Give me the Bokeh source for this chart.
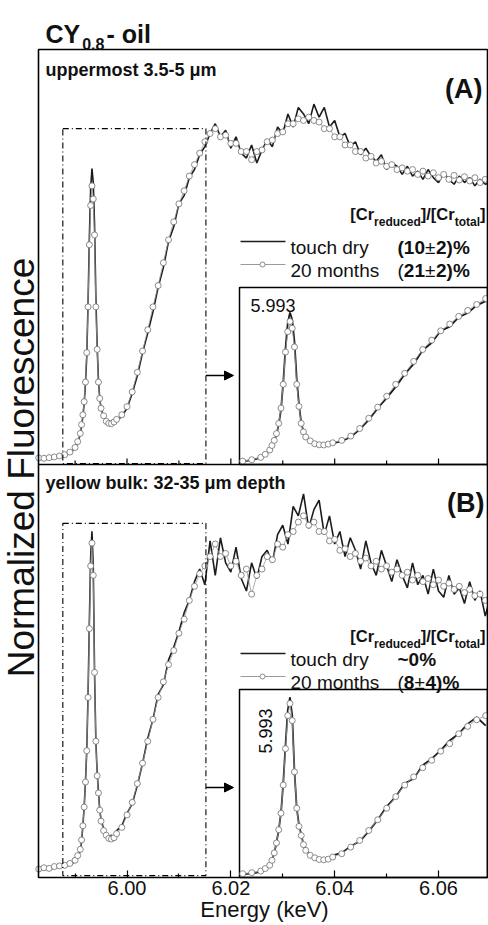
import numpy as np
from bokeh.plotting import figure
from bokeh.models import (Range1d, Label, Arrow, NormalHead, FixedTicker,
                          PrintfTickFormatter, LinearAxis)
from bokeh.embed import file_html
from bokeh.resources import INLINE

FONT = "Liberation Sans"
INK = "#111111"

# ---------------- data ----------------
energy_kev = [
    5.983, 5.984, 5.985, 5.986, 5.987, 5.988, 5.989, 5.990,
    5.9905, 5.991,
    5.99125, 5.9915, 5.99175, 5.992, 5.99225, 5.9925, 5.99275, 5.993,
    5.99325, 5.9935, 5.99375, 5.994, 5.99425, 5.9945, 5.99475, 5.995,
    5.9955, 5.996, 5.9965, 5.997, 5.9975,
    5.998, 5.999, 6.000, 6.001, 6.002, 6.003, 6.004, 6.005, 6.006, 6.007,
    6.008, 6.009, 6.010, 6.011, 6.012, 6.013, 6.014, 6.015, 6.016, 6.017,
    6.018, 6.019, 6.020, 6.021, 6.022, 6.023, 6.024, 6.025, 6.026, 6.027,
    6.028, 6.029, 6.030, 6.031, 6.032, 6.033, 6.034, 6.035, 6.036, 6.037,
    6.038, 6.039, 6.040, 6.041, 6.042, 6.043, 6.044, 6.045, 6.046, 6.047,
    6.048, 6.049, 6.050, 6.051, 6.052, 6.053, 6.054, 6.055, 6.056, 6.057,
    6.058, 6.059, 6.060, 6.061, 6.062, 6.063, 6.064, 6.065, 6.066, 6.067,
    6.068, 6.069, 6.070,
]

# (A) uppermost 3.5-5 um
a_touch_dry = [
    0.004, 0.006, 0.005, 0.009, 0.012, 0.016, 0.024, 0.038,
    0.055, 0.080,
    0.105, 0.135, 0.175, 0.235, 0.32, 0.48, 0.68, 0.83,
    0.893, 0.85, 0.72, 0.50, 0.35, 0.245, 0.19, 0.16,
    0.135, 0.12, 0.113, 0.111, 0.115,
    0.122, 0.135, 0.16, 0.205, 0.26, 0.33, 0.39, 0.455, 0.53, 0.59,
    0.67, 0.715, 0.785, 0.81, 0.865, 0.89, 0.935, 0.96, 1.0, 1.03,
    0.99, 1.01, 0.955, 0.99, 0.94, 0.925, 0.965, 0.91, 0.95, 0.98,
    0.96, 1.02, 1.0, 1.06, 1.02, 1.08, 1.06, 1.03, 1.09, 1.05,
    1.08, 1.02, 1.04, 0.99, 1.0, 0.96, 0.975, 0.935, 0.955, 0.93,
    0.915, 0.935, 0.89, 0.91, 0.9, 0.875, 0.9, 0.87, 0.885, 0.86,
    0.89, 0.865, 0.85, 0.88, 0.86, 0.845, 0.87, 0.85, 0.865, 0.84,
    0.86, 0.845, 0.85,
]
a_20_months = [
    0.008, 0.007, 0.009, 0.011, 0.014, 0.018, 0.026, 0.040,
    0.058, 0.083,
    0.11, 0.14, 0.18, 0.24, 0.33, 0.47, 0.66, 0.78,
    0.84, 0.80, 0.69, 0.47, 0.34, 0.24, 0.19, 0.16,
    0.137, 0.12, 0.114, 0.113, 0.118,
    0.126, 0.14, 0.165, 0.21, 0.27, 0.335, 0.40, 0.47, 0.535, 0.605,
    0.675, 0.73, 0.785, 0.825, 0.87, 0.905, 0.94, 0.975, 1.0, 1.015,
    0.99, 0.995, 0.97, 0.97, 0.945, 0.945, 0.92, 0.945, 0.95, 0.975,
    0.98, 1.0, 1.005, 1.03, 1.03, 1.045, 1.04, 1.05, 1.04, 1.035,
    1.015, 1.015, 0.99, 0.99, 0.965, 0.965, 0.945, 0.945, 0.925, 0.93,
    0.91, 0.915, 0.9, 0.905, 0.89, 0.895, 0.885, 0.89, 0.875, 0.885,
    0.87, 0.88, 0.865, 0.875, 0.86, 0.872, 0.858, 0.868, 0.855, 0.865,
    0.85, 0.86, 0.85,
]

# (B) yellow bulk 32-35 um depth
b_touch_dry = [
    -0.012, -0.008, -0.010, -0.004, -0.002, 0.0, 0.006, 0.015,
    0.03, 0.05,
    0.08, 0.13, 0.19, 0.27, 0.37, 0.55, 0.78, 0.99,
    1.071, 0.96, 0.62, 0.40, 0.30, 0.24, 0.18, 0.15,
    0.12, 0.10, 0.095, 0.10, 0.09,
    0.115, 0.13, 0.17, 0.20, 0.26, 0.33, 0.41, 0.47, 0.55, 0.58,
    0.66, 0.70, 0.75, 0.81, 0.85, 0.91, 0.95, 0.90, 1.04, 0.93,
    1.05, 0.97, 0.94, 1.02, 0.92, 0.88, 0.97, 0.92, 0.99, 1.01,
    0.97, 1.06, 1.09, 1.03, 1.15, 1.12, 1.19, 1.08, 1.14, 1.17,
    1.06, 1.12, 1.03, 1.07, 0.99, 1.05, 1.01, 0.95, 1.04, 0.97,
    0.93, 1.01, 0.96, 0.91, 0.98, 0.93, 0.89, 0.97, 0.90, 0.93,
    0.87, 0.95, 0.88, 0.86, 0.93, 0.87, 0.89, 0.84, 0.91, 0.85,
    0.88, 0.80, 0.86,
]
b_20_months = [
    -0.008, -0.004, -0.006, 0.0, 0.002, 0.004, 0.010, 0.020,
    0.035, 0.055,
    0.085, 0.13, 0.19, 0.27, 0.37, 0.54, 0.76, 0.96,
    1.033, 0.93, 0.62, 0.40, 0.29, 0.235, 0.18, 0.145,
    0.115, 0.10, 0.09, 0.088, 0.092,
    0.105, 0.125, 0.165, 0.205, 0.265, 0.33, 0.40, 0.47, 0.54, 0.59,
    0.645, 0.69, 0.745, 0.79, 0.85, 0.895, 0.935, 0.96, 0.99, 1.03,
    0.99, 1.0, 0.96, 0.975, 0.93, 0.95, 0.87, 0.93, 0.95, 0.99,
    0.98, 1.03, 1.02, 1.06, 1.07, 1.10, 1.12, 1.09, 1.10, 1.07,
    1.07, 1.04, 1.045, 1.01, 1.015, 0.99, 1.0, 0.975, 0.985, 0.96,
    0.975, 0.95, 0.96, 0.94, 0.95, 0.93, 0.94, 0.915, 0.93, 0.91,
    0.92, 0.90, 0.915, 0.895, 0.905, 0.885, 0.895, 0.875, 0.885, 0.865,
    0.87, 0.85, 0.855,
]

x_major_ticks = [6.00, 6.02, 6.04, 6.06]
x_minor_ticks = [5.99, 6.01, 6.03, 6.05]
series_names = ["touch dry", "20 months"]
peak_label = "5.993"

# ---------------- layout (page pixel coordinates, y down) ----------------
W, H = 488, 922
PX_PER_KEV = 5192.0
PX_AT_6 = 126.5


def e2px(e):
    return PX_AT_6 + (e - 6.0) * PX_PER_KEV


def px2e(px):
    return 6.0 + (px - PX_AT_6) / PX_PER_KEV


FR_L, FR_R, FR_T, FR_MID, FR_B = 38, 487, 49, 464, 877
INSET_L, INSET_A_T, INSET_B_T = 239, 287, 689

A_SRC = (-0.012, 1.257)
B_SRC = (-0.035, 1.284)
ZOOM_E = (5.98764, 6.0152)
BOX_A_Y = (-0.009, 1.015)
BOX_B_Y = (-0.029, 1.096)
INSET_A_SRC_Y = (-0.002, 1.04)
INSET_B_SRC_Y = (-0.019, 1.118)

DARK = "#1c1c1c"
CIRC = "#6f6f6f"
CLINE = "#9a9a9a"

p = figure(width=W, height=H, x_range=Range1d(0, W), y_range=Range1d(H, 0),
           output_backend="svg", toolbar_location=None,
           x_axis_location=None, y_axis_location=None,
           min_border=0, min_border_left=0, min_border_right=0,
           min_border_top=0, min_border_bottom=0)
p.grid.visible = False
p.outline_line_color = None
p.background_fill_color = "white"
p.border_fill_color = "white"

E_RANGE = Range1d(px2e(0), px2e(W))
p.extra_x_ranges = {"energy": E_RANGE}

E = np.array(energy_kev)

panel_a = p.subplot(x_source=E_RANGE, y_source=Range1d(*A_SRC),
                    x_target=p.x_range, y_target=Range1d(FR_MID, FR_T))
panel_b = p.subplot(x_source=E_RANGE, y_source=Range1d(*B_SRC),
                    x_target=p.x_range, y_target=Range1d(FR_B, FR_MID))


def draw_pair(g, x, dry, aged, lw=1.6):
    g.line(x, dry, line_color=DARK, line_width=lw)
    g.line(x, aged, line_color=CLINE, line_width=0.8)
    g.scatter(x, aged, marker="circle", size=6, fill_color="white",
              line_color=CIRC, line_width=0.8)


draw_pair(panel_a, E, a_touch_dry, a_20_months)
draw_pair(panel_b, E, b_touch_dry, b_20_months)

# zoom boxes (dash-dot)
panel_a.quad(left=[ZOOM_E[0]], right=[ZOOM_E[1]], bottom=[BOX_A_Y[0]], top=[BOX_A_Y[1]],
             fill_color=None, line_color="black", line_width=1.1, line_dash="6 3 1 3")
panel_b.quad(left=[ZOOM_E[0]], right=[ZOOM_E[1]], bottom=[BOX_B_Y[0]], top=[BOX_B_Y[1]],
             fill_color=None, line_color="black", line_width=1.1, line_dash="6 3 1 3")

# arrows from the zoom boxes to the insets
for ya in (375, 787):
    p.add_layout(Arrow(end=NormalHead(size=9, fill_color="black", line_color="black"),
                       x_start=e2px(ZOOM_E[1]), y_start=ya, x_end=233, y_end=ya,
                       line_color="black", line_width=1.5))

# inset frames
p.quad(left=[INSET_L], right=[FR_R], top=[INSET_A_T], bottom=[FR_MID],
       fill_color="white", line_color="black", line_width=1.5)
p.quad(left=[INSET_L], right=[FR_R], top=[INSET_B_T], bottom=[FR_B],
       fill_color="white", line_color="black", line_width=1.5)

m = (E >= ZOOM_E[0]) & (E <= ZOOM_E[1])
inset_a = p.subplot(x_source=Range1d(*ZOOM_E), y_source=Range1d(*INSET_A_SRC_Y),
                    x_target=Range1d(INSET_L, FR_R), y_target=Range1d(FR_MID, INSET_A_T))
inset_b = p.subplot(x_source=Range1d(*ZOOM_E), y_source=Range1d(*INSET_B_SRC_Y),
                    x_target=Range1d(INSET_L, FR_R), y_target=Range1d(FR_B, INSET_B_T))
draw_pair(inset_a, E[m], np.array(a_touch_dry)[m], np.array(a_20_months)[m], lw=1.8)
draw_pair(inset_b, E[m], np.array(b_touch_dry)[m], np.array(b_20_months)[m], lw=1.8)

# outer frame and panel divider
p.quad(left=[FR_L], right=[FR_R], top=[FR_T], bottom=[FR_B],
       fill_color=None, line_color="black", line_width=1.6)
p.segment(x0=[FR_L], y0=[FR_MID], x1=[FR_R], y1=[FR_MID], line_color="black", line_width=1.6)

# inward ticks on the divider
p.segment(x0=x_major_ticks, y0=[FR_MID] * 4, x1=x_major_ticks, y1=[FR_MID - 6] * 4,
          x_range_name="energy", line_color="black", line_width=1.2)
p.segment(x0=x_minor_ticks, y0=[FR_MID] * 4, x1=x_minor_ticks, y1=[FR_MID - 4] * 4,
          x_range_name="energy", line_color="black", line_width=1.2)

# energy axis, fixed at the bottom of panel (B)
xaxis = LinearAxis(x_range_name="energy", fixed_location=FR_B,
                   ticker=FixedTicker(ticks=x_major_ticks, minor_ticks=x_minor_ticks),
                   formatter=PrintfTickFormatter(format="%.2f"))
xaxis.axis_line_color = None
xaxis.major_tick_in = 7
xaxis.major_tick_out = 0
xaxis.minor_tick_in = 4
xaxis.minor_tick_out = 0
xaxis.major_tick_line_width = 1.2
xaxis.minor_tick_line_width = 1.2
xaxis.major_label_text_font = FONT
xaxis.major_label_text_font_size = "20px"
xaxis.major_label_text_color = INK
xaxis.major_label_standoff = 3
p.add_layout(xaxis, "below")

# ---------------- texts ----------------
W_REG = {' ': .278, '(': .333, ')': .333, '%': .889, '±': .584, '~': .584, '.': .278,
         '-': .333, 't': .278, 'o': .556, 'u': .556, 'c': .5, 'h': .556, 'd': .556,
         'r': .333, 'y': .5, 'm': .833, 'n': .556, 's': .5}
W_BOLD = {' ': .278, '(': .333, ')': .333, '%': .889, '±': .584, '~': .584, '.': .278,
          '-': .333, '[': .333, ']': .333, '/': .278, 'C': .722, 'Y': .667, 'r': .389,
          'e': .556, 'd': .611, 'u': .611, 'c': .556, 't': .333, 'o': .611, 'a': .556,
          'l': .278, 'i': .278}


def tw(s, size, bold):
    table = W_BOLD if bold else W_REG
    return sum(table.get(ch, .556) for ch in s) * size


def add_label(x, y, text, size, bold=False, align="left", angle=0, xo=0, yo=0,
              baseline="alphabetic"):
    p.add_layout(Label(x=x, y=y, text=text, x_offset=xo, y_offset=yo,
                       text_font=FONT, text_font_size=f"{size}px",
                       text_font_style="bold" if bold else "normal",
                       text_color=INK, text_align=align, text_baseline=baseline,
                       angle=angle, angle_units="deg"))


def rich(x, y, pieces, align="left"):
    widths = [tw(t, s, b) + g for (t, s, b, dy, g) in pieces]
    off = -sum(widths) if align == "right" else 0.0
    for (t, s, b, dy, g), w in zip(pieces, widths):
        add_label(x, y, t, s, bold=b, xo=off + g, yo=dy)
        off += w


# title, axis titles
rich(45, 33, [("CY", 25, True, 0, 0), ("0.8", 16, True, -10, 2), ("- oil", 25, True, 0, 2)])
add_label(264, 909, "Energy (keV)", 22, align="center")
add_label(21, 467, "Normalized Fluorescence", 37, align="center", angle=90,
          baseline="middle")

# panel captions
add_label(45, 69, "uppermost 3.5-5 μm", 18, bold=True)
add_label(45, 482, "yellow bulk: 32-35 μm depth", 18, bold=True)
add_label(482, 88, "(A)", 27, bold=True, align="right")
add_label(484, 502, "(B)", 27, bold=True, align="right")

# peak labels in insets
add_label(250, 305, peak_label, 18)
add_label(265, 753, peak_label, 18, angle=90)

# legends
HDR = [("[Cr", 16.5, True, 0, 0), ("reduced", 12, True, -8, 0), ("]/[Cr", 16.5, True, 0, 0),
       ("total", 12, True, -8, 0), ("]", 16.5, True, 0, 0)]


def legend_block(hdr_y, row1_y, row2_y, pct1, pct2):
    rich(485, hdr_y, HDR, align="right")
    p.line([240, 285], [row1_y, row1_y], line_color=DARK, line_width=1.3)
    p.line([240, 285], [row2_y, row2_y], line_color=CLINE, line_width=1.0)
    p.scatter([262], [row2_y], marker="circle", size=5,
              fill_color="white", line_color=CIRC, line_width=0.8)
    add_label(290, row1_y + 6, series_names[0], 19)
    add_label(290, row2_y + 6, series_names[1], 19)
    rich(397, row1_y + 6, pct1)
    rich(397, row2_y + 6, pct2)


legend_block(213, 241, 264,
             [("(10", 19, True, 0, 0), ("±", 19, False, 0, 0), ("2)%", 19, True, 0, 0)],
             [("(", 19, False, 0, 0), ("21", 19, True, 0, 0), ("±", 19, False, 0, 0),
              ("2)%", 19, True, 0, 0)])
legend_block(635, 653, 676,
             [("~0%", 19, True, 0, 0)],
             [("(", 19, False, 0, 0), ("8", 19, True, 0, 0), ("±", 19, False, 0, 0),
              ("4", 19, True, 0, 0), (")%", 19, True, 0, 0)])

open("out.html", "w").write(file_html(p, INLINE))
